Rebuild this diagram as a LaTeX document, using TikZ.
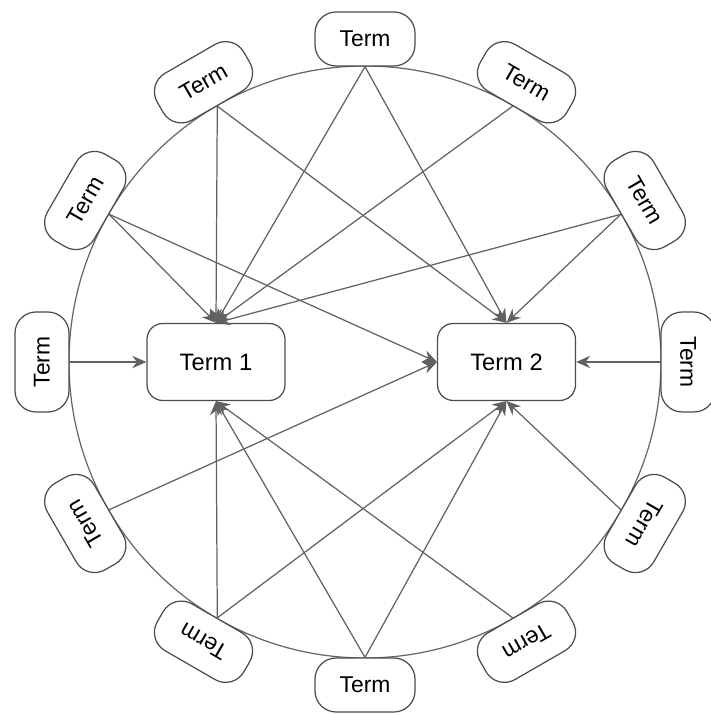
\documentclass[tikz,border=0pt]{standalone}
\usepackage{fontspec}
\setmainfont{Liberation Sans}
\usetikzlibrary{arrows.meta}
\tikzset{
  term/.style={draw=black!70,fill=white,rounded corners=12pt,minimum width=2cm,minimum height=1.08cm,inner sep=1pt,font=\fontsize{13}{15}\selectfont},
  mainterm/.style={draw=black!70,fill=white,rounded corners=9pt,minimum width=2.76cm,minimum height=1.54cm,font=\fontsize{13.5}{16}\selectfont},
  link/.style={->,draw=black!62}
}
\begin{document}
\begin{tikzpicture}[line width=0.7pt,>={Stealth[length=8pt,width=7pt]}]
\useasboundingbox (-7.30,-7.06) rectangle (6.90,7.24);
% 大圆
\draw[black!60] (0,0) circle (5.92);
% 中间两项
\node[mainterm] (t1) at (-2.98,0) {Term 1};
\node[mainterm] (t2) at (2.83,0) {Term 2};
% 外圈各项（沿圆切向旋转）
\node[term,rotate=0]   (a90)  at (90:6.46)  {Term};
\node[term,rotate=-30] (a60)  at (60:6.46)  {Term};
\node[term,rotate=-60] (a30)  at (30:6.46)  {Term};
\node[term,rotate=-90] (a0)   at (0:6.46)   {Term};
\node[term,rotate=240] (a330) at (330:6.46) {Term};
\node[term,rotate=210] (a300) at (300:6.46) {Term};
\node[term,rotate=0]   (a270) at (270:6.46) {Term};
\node[term,rotate=150] (a240) at (240:6.46) {Term};
\node[term,rotate=120] (a210) at (210:6.46) {Term};
\node[term,rotate=90]  (a180) at (180:6.46) {Term};
\node[term,rotate=60]  (a150) at (150:6.46) {Term};
\node[term,rotate=30]  (a120) at (120:6.46) {Term};
% 指向 Term 1
\draw[link] (a90.south) -- (t1.north);
\draw[link] (a60.south) -- (t1.north);
\draw[link] (a30.south) -- (t1.north);
\draw[link] (a120.south) -- (t1.north);
\draw[link] (a150.south) -- (t1.north);
\draw[link] (a180.south) -- (t1.west);
\draw[link] (a240.south) -- (t1.south);
\draw[link] (a270.north) -- (t1.south);
\draw[link] (a300.south) -- (t1.south);
% 指向 Term 2
\draw[link] (a90.south) -- (t2.north);
\draw[link] (a120.south) -- (t2.north);
\draw[link] (a30.south) -- (t2.north);
\draw[link] (a0.south) -- (t2.east);
\draw[link] (a150.south) -- (t2.west);
\draw[link] (a210.south) -- (t2.west);
\draw[link] (a330.south) -- (t2.south);
\draw[link] (a270.north) -- (t2.south);
\draw[link] (a240.south) -- (t2.south);
\end{tikzpicture}
\end{document}
